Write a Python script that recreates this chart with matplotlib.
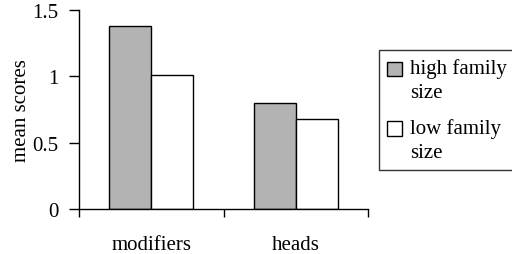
import numpy as np
import matplotlib.pyplot as plt
from matplotlib.patches import Rectangle
from matplotlib.container import BarContainer
from matplotlib.legend_handler import HandlerPatch, update_from_first_child
from matplotlib.ticker import FixedLocator

plt.rcParams['font.family'] = ['Liberation Serif', 'DejaVu Serif']

categories = ['modifiers', 'heads']
high_family = [1.377, 0.80]
low_family = [1.012, 0.676]
series_labels = ['high family\nsize', 'low family\nsize']

fs = 15


def top_patch(legend, orig_handle, xdescent, ydescent, width, height, fontsize):
    # put the legend square next to the first line of a wrapped label
    return Rectangle((-xdescent, -ydescent + 0.52 * fontsize), width, height)


fig = plt.figure(figsize=(5.12, 2.55), dpi=100)
ax = fig.add_axes([79 / 512, 1 - 210 / 255, 289 / 512, 199 / 255])

x = np.arange(len(categories))
w = 0.29
ax.bar(x - w / 2, high_family, w, color='#b3b3b3', edgecolor='black', linewidth=1, label=series_labels[0])
ax.bar(x + w / 2, low_family, w, color='white', edgecolor='black', linewidth=1, label=series_labels[1])

ax.set_xlim(-0.5, 1.5)
ax.set_ylim(0, 1.5)
ax.set_yticks([0, 0.5, 1, 1.5])
ax.set_yticklabels(['0', '0.5', '1', '1.5'])
ax.set_xticks(x)
ax.set_xticklabels(categories)
ax.xaxis.set_minor_locator(FixedLocator([-0.5, 0.5, 1.5]))
ax.tick_params(axis='x', which='major', length=0, pad=19, labelsize=fs)
ax.tick_params(axis='x', which='minor', length=6, direction='out', width=1)
ax.tick_params(axis='y', length=7, direction='out', width=1, labelsize=fs, pad=8)
for side in ['top', 'right']:
    ax.spines[side].set_visible(False)
for side in ['left', 'bottom']:
    ax.spines[side].set_linewidth(1)

ax.set_ylabel('mean scores', fontsize=fs, labelpad=1)

leg = ax.legend(loc='upper left', bbox_to_anchor=(379 / 512, 1 - 168 / 255, 145 / 512, 117 / 255),
                bbox_transform=fig.transFigure, mode='expand', frameon=True, fancybox=False,
                edgecolor='black', fontsize=fs, handlelength=0.7, handleheight=0.7,
                handletextpad=0.4, labelspacing=0.75, borderpad=0.4, borderaxespad=0,
                handler_map={BarContainer: HandlerPatch(patch_func=top_patch,
                                                        update_func=update_from_first_child)})
leg.get_frame().set_linewidth(1)
for t in leg.get_texts():
    t.set_linespacing(1.35)

fig.savefig('out.png', dpi=100)
